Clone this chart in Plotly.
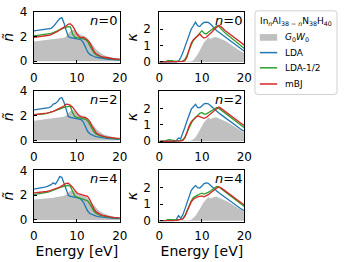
import plotly.graph_objects as go

energy = [i * 0.5 for i in range(41)]

# ---------------- refractive index (n~) ----------------
n_gw_0 = [1.60,1.62,1.63,1.65,1.66,1.68,1.70,1.72,1.74,1.76,1.78,1.80,1.83,1.86,1.90,2.00,2.20,2.45,2.55,2.50,
          2.35,2.20,2.10,2.05,2.00,1.85,1.60,1.35,1.15,0.95,0.80,0.65,0.55,0.47,0.40,0.35,0.30,0.26,0.22,0.19,0.16]
n_lda_0 = [2.45,2.47,2.50,2.52,2.55,2.57,2.60,2.62,2.66,2.80,3.00,3.20,3.45,3.52,3.10,2.50,2.00,1.90,1.85,1.85,
           1.80,1.78,1.72,1.50,1.10,0.75,0.55,0.45,0.38,0.32,0.28,0.25,0.22,0.20,0.18,0.16,0.15,0.13,0.12,0.11,0.10]
n_lh_0 = [2.05,2.07,2.08,2.10,2.12,2.15,2.18,2.20,2.25,2.32,2.40,2.48,2.55,2.62,2.68,2.75,2.80,2.78,2.20,1.95,
          1.90,1.88,1.85,1.80,1.75,1.60,1.25,0.90,0.65,0.50,0.42,0.36,0.32,0.28,0.25,0.22,0.20,0.18,0.16,0.15,0.14]
n_mbj_0 = [1.92,1.94,1.96,1.98,2.00,2.03,2.06,2.10,2.15,2.22,2.30,2.40,2.55,2.68,2.76,2.85,3.00,3.02,2.85,2.55,
           2.20,2.00,1.90,1.95,1.85,1.70,1.50,1.15,0.80,0.60,0.48,0.40,0.34,0.30,0.27,0.24,0.22,0.20,0.18,0.17,0.16]

n_gw_2 = [1.60,1.62,1.63,1.65,1.67,1.69,1.71,1.73,1.75,1.77,1.79,1.81,1.84,1.87,1.92,2.02,2.20,2.40,2.45,2.40,
          2.25,2.12,2.05,2.00,1.95,1.80,1.58,1.35,1.15,0.95,0.80,0.66,0.56,0.48,0.41,0.35,0.30,0.26,0.22,0.19,0.16]
n_lda_2 = [2.48,2.50,2.52,2.55,2.57,2.60,2.62,2.66,2.75,2.95,3.00,3.15,3.40,3.48,3.10,2.50,1.95,1.88,1.85,1.83,
           1.80,1.76,1.70,1.50,1.10,0.75,0.55,0.45,0.38,0.32,0.28,0.25,0.22,0.20,0.18,0.16,0.15,0.13,0.12,0.11,0.10]
n_lh_2 = [2.07,2.08,2.10,2.12,2.14,2.17,2.20,2.23,2.28,2.35,2.42,2.50,2.58,2.64,2.68,2.72,2.75,2.78,2.25,1.95,
          1.88,1.85,1.82,1.78,1.72,1.58,1.25,0.92,0.68,0.52,0.43,0.37,0.32,0.28,0.25,0.22,0.20,0.18,0.16,0.15,0.14]
n_mbj_2 = [2.10,2.11,2.12,2.14,2.16,2.19,2.22,2.26,2.30,2.36,2.45,2.52,2.62,2.70,2.80,2.95,2.93,2.85,2.70,2.45,
           2.15,2.00,1.92,1.90,1.85,1.75,1.55,1.20,0.85,0.62,0.50,0.42,0.36,0.31,0.28,0.25,0.23,0.21,0.19,0.18,0.17]

n_gw_4 = [1.65,1.66,1.67,1.69,1.70,1.72,1.74,1.76,1.78,1.80,1.82,1.84,1.87,1.90,1.95,2.05,2.22,2.35,2.35,2.30,
          2.15,2.05,2.00,1.95,1.90,1.75,1.55,1.33,1.15,0.95,0.80,0.66,0.56,0.48,0.41,0.35,0.30,0.26,0.22,0.19,0.16]
n_lda_4 = [2.50,2.52,2.55,2.58,2.62,2.66,2.70,2.75,2.85,3.00,2.90,3.15,3.50,3.45,3.00,2.45,2.00,1.90,1.88,1.85,
           1.80,1.75,1.65,1.45,1.05,0.72,0.52,0.43,0.36,0.31,0.27,0.24,0.21,0.19,0.17,0.16,0.14,0.13,0.12,0.11,0.10]
n_lh_4 = [2.05,2.07,2.09,2.12,2.15,2.18,2.22,2.26,2.32,2.40,2.42,2.50,2.60,2.68,2.72,2.78,2.80,2.70,2.25,1.95,
          1.85,1.78,1.72,1.65,1.62,1.55,1.30,0.95,0.68,0.52,0.43,0.37,0.32,0.28,0.25,0.22,0.20,0.18,0.16,0.15,0.14]
n_mbj_4 = [2.18,2.19,2.20,2.22,2.24,2.27,2.30,2.34,2.40,2.46,2.48,2.55,2.65,2.75,2.85,2.95,2.98,2.85,2.65,2.40,
           2.20,2.10,2.05,2.02,2.00,1.90,1.65,1.25,0.88,0.65,0.52,0.43,0.37,0.32,0.28,0.25,0.23,0.21,0.19,0.18,0.17]

# ---------------- extinction coefficient (kappa) ----------------
k_gw_0 = [0,0,0,0,0,0,0,0,0,0,0,0,0,0,0,0.02,0.10,0.25,0.45,0.70,
          0.95,1.20,1.35,1.50,1.40,1.45,1.52,1.50,1.45,1.40,1.35,1.28,1.20,1.10,1.02,0.94,0.85,0.76,0.68,0.60,0.52]
k_lda_0 = [0,0,0,0,0,0,0,0,0,0.05,0.25,0.55,0.90,1.30,1.70,2.00,2.20,2.42,2.20,2.15,
           2.30,2.40,2.42,2.40,2.30,2.15,2.00,1.90,1.80,1.70,1.60,1.50,1.40,1.30,1.20,1.10,1.00,0.90,0.80,0.72,0.65]
k_lh_0 = [0,0,0,0.02,0.08,0.10,0.08,0.04,0.03,0.03,0.03,0.05,0.15,0.40,0.75,1.05,1.30,1.45,1.60,1.80,
          1.90,1.75,1.70,1.80,1.90,2.00,2.10,2.20,2.15,2.00,1.85,1.75,1.65,1.55,1.45,1.35,1.22,1.10,1.00,0.90,0.82]
k_mbj_0 = [0,0,0,0,0,0,0,0,0.01,0.02,0.02,0.03,0.08,0.30,0.75,1.15,1.35,1.45,1.60,1.70,
           1.55,1.45,1.50,1.60,1.70,1.85,2.00,2.10,2.22,2.15,2.00,1.90,1.80,1.70,1.60,1.50,1.40,1.30,1.20,1.10,1.02]

k_gw_2 = [0,0,0,0,0,0,0,0,0,0,0,0,0,0,0,0.03,0.12,0.25,0.45,0.70,
          0.95,1.15,1.30,1.45,1.35,1.40,1.45,1.45,1.40,1.35,1.30,1.24,1.16,1.08,1.00,0.92,0.84,0.75,0.67,0.59,0.52]
k_lda_2 = [0,0,0,0,0,0,0,0,0.05,0.20,0.15,0.45,0.85,1.25,1.65,1.95,2.10,2.25,2.05,2.05,
           2.15,2.28,2.30,2.28,2.18,2.05,1.92,1.82,1.72,1.62,1.52,1.42,1.32,1.22,1.12,1.02,0.93,0.84,0.76,0.68,0.61]
k_lh_2 = [0,0,0,0.02,0.08,0.10,0.07,0.04,0.03,0.03,0.04,0.08,0.25,0.55,0.85,1.10,1.30,1.45,1.55,1.70,
          1.75,1.65,1.65,1.72,1.80,1.90,1.98,2.05,2.00,1.90,1.80,1.70,1.60,1.50,1.40,1.30,1.20,1.10,1.00,0.90,0.82]
k_mbj_2 = [0,0,0,0,0,0,0,0,0.01,0.02,0.03,0.05,0.20,0.55,0.95,1.20,1.35,1.45,1.55,1.50,
           1.45,1.40,1.45,1.55,1.65,1.78,1.90,2.00,2.08,2.00,1.90,1.80,1.70,1.60,1.50,1.42,1.32,1.22,1.12,1.04,0.96]

k_gw_4 = [0,0,0,0,0,0,0,0,0,0,0,0,0,0,0.02,0.05,0.15,0.30,0.50,0.72,
          0.95,1.15,1.28,1.42,1.35,1.40,1.45,1.45,1.40,1.35,1.30,1.24,1.16,1.08,1.00,0.92,0.84,0.75,0.67,0.59,0.52]
k_lda_4 = [0,0,0,0,0,0,0,0,0.08,0.30,0.15,0.35,0.70,1.10,1.50,1.85,2.00,2.13,2.00,1.98,
           2.10,2.25,2.29,2.27,2.15,2.02,1.90,1.80,1.70,1.60,1.50,1.40,1.30,1.20,1.10,1.00,0.92,0.83,0.75,0.67,0.60]
k_lh_4 = [0,0,0,0.02,0.06,0.08,0.06,0.04,0.04,0.05,0.08,0.12,0.30,0.60,0.95,1.20,1.40,1.50,1.55,1.62,
          1.67,1.62,1.65,1.72,1.80,1.90,2.00,2.08,2.05,1.95,1.85,1.75,1.65,1.55,1.45,1.35,1.25,1.15,1.05,0.95,0.86]
k_mbj_4 = [0,0,0,0,0,0,0,0,0.02,0.05,0.06,0.10,0.25,0.55,0.90,1.15,1.30,1.40,1.45,1.48,
           1.50,1.45,1.50,1.58,1.68,1.80,1.90,1.98,2.05,2.00,1.90,1.80,1.70,1.60,1.50,1.42,1.32,1.22,1.12,1.04,0.96]

n_values = [0, 2, 4]
method_names = ["<i>G</i><sub>0</sub><i>W</i><sub>0</sub>", "LDA", "LDA-1/2", "mBJ"]
method_colors = ["#c0c0c0", "#1f77b4", "#2ca02c", "#d62728"]
legend_title = "In<sub><i>n</i></sub>Al<sub>38 − <i>n</i></sub>N<sub>38</sub>H<sub>40</sub>"
x_ticks = [0, 10, 20]

nt_data = [[n_gw_0, n_lda_0, n_lh_0, n_mbj_0],
           [n_gw_2, n_lda_2, n_lh_2, n_mbj_2],
           [n_gw_4, n_lda_4, n_lh_4, n_mbj_4]]
k_data = [[k_gw_0, k_lda_0, k_lh_0, k_mbj_0],
          [k_gw_2, k_lda_2, k_lh_2, k_mbj_2],
          [k_gw_4, k_lda_4, k_lh_4, k_mbj_4]]

W, H = 346, 262
FONT = "DejaVu Sans"
fig = go.Figure()

left_dom = [31 / W, 120 / W]
right_dom = [161 / W, 249 / W]
row_tops = [5, 88.5, 172]
row_h = 54

annotations = []
shapes = []
for r in range(3):
    ydom = [1 - (row_tops[r] + row_h) / H, 1 - row_tops[r] / H]
    for c in range(2):
        idx = r * 2 + c + 1
        xa = "x" if idx == 1 else f"x{idx}"
        ya = "y" if idx == 1 else f"y{idx}"
        data = nt_data[r] if c == 0 else k_data[r]
        for m in range(4):
            if m == 0:
                fig.add_trace(go.Scatter(x=energy, y=data[m], mode="lines", fill="tozeroy",
                                         fillcolor=method_colors[0], line=dict(width=0, color=method_colors[0]),
                                         name=method_names[m], showlegend=False, xaxis=xa, yaxis=ya))
            else:
                fig.add_trace(go.Scatter(x=energy, y=data[m], mode="lines",
                                         line=dict(width=1.3, color=method_colors[m]),
                                         name=method_names[m], showlegend=False, xaxis=xa, yaxis=ya))
        axis_common = dict(showline=True, linecolor="black", linewidth=1.3, mirror=True,
                           ticks="inside", ticklen=3, tickcolor="black", showgrid=False, zeroline=False,
                           tickfont=dict(family=FONT, size=12, color="black"))
        xkey = "xaxis" if idx == 1 else f"xaxis{idx}"
        ykey = "yaxis" if idx == 1 else f"yaxis{idx}"
        xaxis = dict(axis_common, domain=left_dom if c == 0 else right_dom, anchor=ya,
                     range=[0, 20], tickvals=x_ticks, ticklabelstandoff=3)
        if r == 2:
            xaxis["title"] = dict(text="Energy [eV]", font=dict(family=FONT, size=14, color="black"), standoff=0)
        if c == 0:
            yaxis = dict(axis_common, domain=ydom, anchor=xa, range=[-0.15, 4.0], tickvals=[0, 2, 4],
                         ticklabelstandoff=3,
                         title=dict(text="<i>ñ</i>", font=dict(family=FONT, size=14, color="black"), standoff=2))
        else:
            yaxis = dict(axis_common, domain=ydom, anchor=xa, range=[-0.07, 3.05], tickvals=[0, 1, 2],
                         ticklabelstandoff=5,
                         title=dict(text="<i>κ</i>", font=dict(family=FONT, size=14, color="black"), standoff=2))
        fig.update_layout({xkey: xaxis, ykey: yaxis})
        annotations.append(dict(text=f"<i>n</i>={n_values[r]}",
                                xref=f"{xa} domain", yref=f"{ya} domain", x=0.99, y=1.02,
                                xanchor="right", yanchor="top", showarrow=False,
                                font=dict(family=FONT, size=13, color="black")))

# ---- legend box drawn in pixel-based paper coordinates ----
def px(x):
    return x / W

def py(y):
    return 1 - y / H

L, R, T, B, rad = 260, 345, 4, 92, 3
path = (f"M {px(L + rad)},{py(T)} L {px(R - rad)},{py(T)} Q {px(R)},{py(T)} {px(R)},{py(T + rad)} "
        f"L {px(R)},{py(B - rad)} Q {px(R)},{py(B)} {px(R - rad)},{py(B)} "
        f"L {px(L + rad)},{py(B)} Q {px(L)},{py(B)} {px(L)},{py(B - rad)} "
        f"L {px(L)},{py(T + rad)} Q {px(L)},{py(T)} {px(L + rad)},{py(T)} Z")
shapes.append(dict(type="path", xref="paper", yref="paper", path=path,
                   line=dict(color="#d0d0d0", width=1), fillcolor="white", layer="above"))
annotations.append(dict(text=legend_title, xref="paper", yref="paper", x=px(303), y=py(15),
                        xanchor="center", yanchor="middle", showarrow=False,
                        font=dict(family=FONT, size=9, color="black")))
entry_y = [32, 48, 64, 81]
for m in range(4):
    yy = entry_y[m]
    if m == 0:
        shapes.append(dict(type="rect", xref="paper", yref="paper", x0=px(265), x1=px(283),
                           y0=py(yy + 3.5), y1=py(yy - 3.5), line=dict(width=0),
                           fillcolor=method_colors[0], layer="above"))
    else:
        shapes.append(dict(type="line", xref="paper", yref="paper", x0=px(265), x1=px(283),
                           y0=py(yy), y1=py(yy), line=dict(color=method_colors[m], width=1.5),
                           layer="above"))
    annotations.append(dict(text=method_names[m], xref="paper", yref="paper", x=px(289), y=py(yy),
                            xanchor="left", yanchor="middle", showarrow=False,
                            font=dict(family=FONT, size=9, color="black")))

fig.update_layout(
    width=W, height=H, margin=dict(l=0, r=0, t=0, b=0),
    paper_bgcolor="white", plot_bgcolor="white",
    annotations=annotations, shapes=shapes, showlegend=False,
)

fig.write_html("out.html", config={"displayModeBar": False},
               post_script="document.body.style.margin='0';document.body.style.overflow='hidden';")
